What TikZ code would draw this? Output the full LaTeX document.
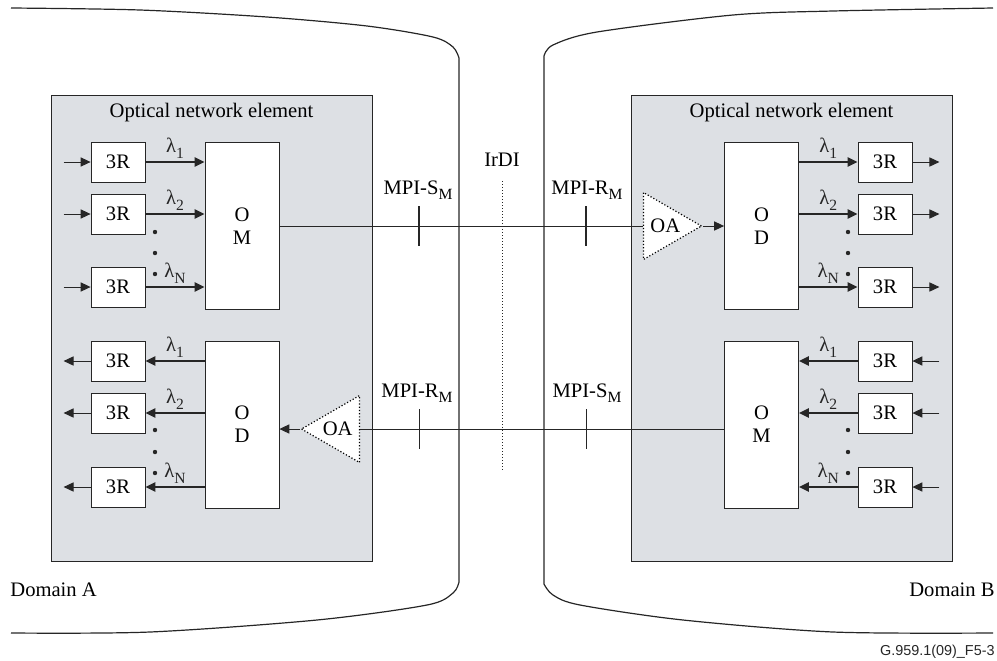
\documentclass[tikz,border=0pt]{standalone}
\usepackage{fontspec}
\setmainfont{Liberation Serif}
\newfontfamily\tagfont{Liberation Sans}
\usetikzlibrary{arrows.meta,positioning,shapes.geometric}
\definecolor{negray}{RGB}{221,224,228}
\colorlet{ln}{black!85}
\newcommand{\lsub}[1]{\raisebox{-0.55ex}{\fontsize{7.8}{8}\selectfont #1}}
\tikzset{ne/.style={draw=ln, fill=negray, minimum width=160.5pt, minimum height=233pt, inner sep=0pt},
            rr/.style={draw=ln, fill=white, minimum width=27pt, minimum height=20pt, inner sep=0pt},
            mux/.style={draw=ln, fill=white, minimum width=37pt, minimum height=83.5pt, inner sep=0pt,
            align=center, font=\fontsize{10.3}{11.5}\selectfont},
            amp/.style={isosceles triangle, isosceles triangle stretches, draw=black, line width=0.6pt,
            densely dotted, fill=white, minimum width=33.5pt, minimum height=29pt, inner sep=0pt},
            sig/.style={-{Triangle[length=5pt,width=4.6pt]}, line width=1pt, ln},
            tip/.style={-{Triangle[length=5pt,width=4.6pt]}, line width=0.5pt, ln},
            fib/.style={line width=0.5pt, ln},
            bord/.style={line width=0.6pt, ln},
            dot/.style={circle, fill=ln, inner sep=0pt, minimum size=2.2pt}}

\begin{document}
\begin{tikzpicture}[x=0.5pt, y=-0.5pt, font=\fontsize{10.3}{12}\selectfont]
\useasboundingbox (0,0) rectangle (997,660);

 % domain borders
 \draw[bord] plot[smooth, tension=0.5] coordinates {(11,8) (140,10) (267,17) (367,26) (433,37) (453,47) (459,58)}
   -- (459,582) -- plot[smooth, tension=0.5] coordinates {(459,582) (453,593) (427,605) (317,620) (150,632) (11,633)};
 \draw[bord] plot[smooth, tension=0.5] coordinates {(993,8) (833,11) (733,15) (597,32) (553,45) (544,56)}
   -- (544,584) -- plot[smooth, tension=0.5] coordinates {(544,584) (553,595) (580,605) (683,620) (833,632) (993,633)};

 \begin{scope}
   \node[ne] (neA) at (211.5,328) {};
   \node at ([yshift=-9pt]neA.north) {Optical network element};
   \node[mux] (omA) at (242,226) {O\\M};
   \node[mux] (odA) at (242,424.5) {O\\D};
   \node[rr] (raA1) at (118,162) {3R};
   \node[rr] (raA2) at (118,214) {3R};
   \node[rr] (raA3) at (118,287) {3R};
   \node[rr] (raA4) at (118,361) {3R};
   \node[rr] (raA5) at (118,413) {3R};
   \node[rr] (raA6) at (118,487) {3R};
   \node[amp, shape border rotate=180, anchor=apex] (oaA) at (300,429) {\makebox[0pt]{OA\hspace{6.5pt}}};
 \end{scope}

 \begin{scope}
   \node[ne] (neB) at (791.5,328) {};
   \node at ([yshift=-9pt]neB.north) {Optical network element};
   \node[mux] (odB) at (761.5,226) {O\\D};
   \node[mux] (omB) at (761.5,424.5) {O\\M};
   \node[rr] (rbB1) at (885,162) {3R};
   \node[rr] (rbB2) at (885,214) {3R};
   \node[rr] (rbB3) at (885,287) {3R};
   \node[rr] (rbB4) at (885,361) {3R};
   \node[rr] (rbB5) at (885,413) {3R};
   \node[rr] (rbB6) at (885,487) {3R};
   \node[amp, anchor=apex] (oaB) at (703,226) {\makebox[0pt]{\hspace{6.5pt}OA}};
 \end{scope}

 % tributaries, domain A
 \foreach \i in {1,2,3} \draw[tip] ([xshift=-13.5pt]raA\i.west) -- (raA\i.west);
 \foreach \i in {4,5,6} \draw[tip] (raA\i.west) -- ++(-13.5pt,0);
 \draw[sig] (raA1.east) -- (raA1.east -| omA.west) node[midway, above, inner sep=1.5pt] {λ\lsub{1}};
 \draw[sig] (raA2.east) -- (raA2.east -| omA.west) node[midway, above, inner sep=1.5pt] {λ\lsub{2}};
 \draw[sig] (raA3.east) -- (raA3.east -| omA.west) node[midway, above, inner sep=1.5pt] {λ\lsub{N}};
 \draw[sig] (raA4.east -| odA.west) -- (raA4.east) node[midway, above, inner sep=1.5pt] {λ\lsub{1}};
 \draw[sig] (raA5.east -| odA.west) -- (raA5.east) node[midway, above, inner sep=1.5pt] {λ\lsub{2}};
 \draw[sig] (raA6.east -| odA.west) -- (raA6.east) node[midway, above, inner sep=1.5pt] {λ\lsub{N}};

 % tributaries, domain B
 \foreach \i in {1,2,3} \draw[tip] (rbB\i.east) -- ++(13.5pt,0);
 \foreach \i in {4,5,6} \draw[tip] ([xshift=13.5pt]rbB\i.east) -- (rbB\i.east);
 \draw[sig] (rbB1.west -| odB.east) -- (rbB1.west) node[midway, above, inner sep=1.5pt] {λ\lsub{1}};
 \draw[sig] (rbB2.west -| odB.east) -- (rbB2.west) node[midway, above, inner sep=1.5pt] {λ\lsub{2}};
 \draw[sig] (rbB3.west -| odB.east) -- (rbB3.west) node[midway, above, inner sep=1.5pt] {λ\lsub{N}};
 \draw[sig] (rbB4.west) -- (rbB4.west -| omB.east) node[midway, above, inner sep=1.5pt] {λ\lsub{1}};
 \draw[sig] (rbB5.west) -- (rbB5.west -| omB.east) node[midway, above, inner sep=1.5pt] {λ\lsub{2}};
 \draw[sig] (rbB6.west) -- (rbB6.west -| omB.east) node[midway, above, inner sep=1.5pt] {λ\lsub{N}};

 % dots
 \foreach \x in {155,848} \foreach \y in {232,253,274,430,452,473} \node[dot] at (\x,\y) {};

 % fibres and reference points
 \draw[fib] (omA.east) -- (oaB.lower side);
 \draw[tip] (oaB.apex) -- (odB.west);
 \draw[fib] (oaA.lower side -| omB.west) -- (oaA.lower side);
 \draw[tip] (oaA.apex) -- (oaA.apex -| odA.east);
 \coordinate (sA) at (419,226); \coordinate (rB) at (586,226);
 \coordinate (rA) at (419,429); \coordinate (sB) at (586,429);
 \draw[line width=1pt, ln] ([yshift=10pt]sA) -- ([yshift=-10pt]sA);
 \draw[line width=1pt, ln] ([yshift=10pt]rB) -- ([yshift=-10pt]rB);
 \draw[fib] ([yshift=10pt]rA) -- ([yshift=-10pt]rA);
 \draw[fib] ([yshift=10pt]sB) -- ([yshift=-10pt]sB);
 \node (lsA) at (418,190) {MPI-S\lsub{M}};
 \node (lrB) at (587,190) {MPI-R\lsub{M}};
 \node (lrA) at (417,393) {MPI-R\lsub{M}};
 \node (lsB) at (587,393) {MPI-S\lsub{M}};
 \node (irdi) at (502,160) {IrDI};
 \draw[densely dotted, line width=0.5pt, ln] (502,181) -- (502,470);

 \node[anchor=west, inner sep=0pt] (domA) at (10,590) {Domain A};
 \node[anchor=east, inner sep=0pt] (domB) at (995,590) {Domain B};
 \node[anchor=east, inner sep=0pt, font=\tagfont\fontsize{7.2}{8}\selectfont, ln] (tag) at (995,652) {G.959.1(09)\_F5-3};
\end{tikzpicture}
\end{document}
